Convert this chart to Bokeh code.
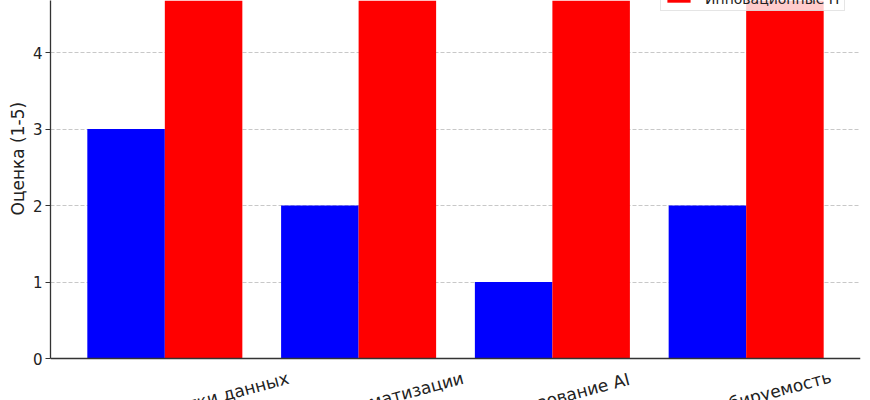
import math
from bokeh.plotting import figure
from bokeh.models import (ColumnDataSource, Range1d, FixedTicker, Span, Legend,
                          LegendItem, Title)
from bokeh.transform import dodge
from bokeh.core.properties import value
from bokeh.embed import file_html
from bokeh.resources import INLINE

# ---- data ----
categories = ["Скорость обработки данных", "Уровень автоматизации",
              "Использование AI", "Масштабируемость"]
traditional_it = [3, 2, 1, 2]
innovative_it = [5, 5, 5, 5]
series_names = ["Традиционные IT", "Инновационные IT"]
y_ticks = [0, 1, 2, 3, 4, 5]
y_label = "Оценка (1-5)"

FONT = "DejaVu Sans"
idx = list(range(len(categories)))

# offsets for centred, rotated category labels (matplotlib-like placement)
ang = math.radians(15)
label_px = 16.8
label_offsets = [10.5 + (len(c) * 0.595 * label_px * math.sin(ang)
                         + 19.5 * math.cos(ang)) / 2 for c in categories]

src = ColumnDataSource(dict(x=idx, cat=categories, trad=traditional_it,
                            inno=innovative_it, zero=[0] * len(idx),
                            yoff=label_offsets))

p = figure(width=870, height=400, output_backend="svg", toolbar_location=None,
           x_range=Range1d(-0.59, 3.59), y_range=Range1d(-0.549, 4.68),
           x_axis_location=None, min_border_left=50, min_border_right=10,
           min_border_top=0, min_border_bottom=0)
p.outline_line_color = None
p.background_fill_color = "white"
p.border_fill_color = "white"

r_blue = p.vbar(x=dodge("x", -0.2, range=p.x_range), top="trad", width=0.4,
                source=src, fill_color="#0000ff", line_color=None)
r_red = p.vbar(x=dodge("x", 0.2, range=p.x_range), top="inno", width=0.4,
               source=src, fill_color="#ff0000", line_color=None)

# category labels, rotated 15 degrees and centred on the group
p.text(x="x", y="zero", text="cat", y_offset="yoff", source=src,
       angle=ang, text_align="center", text_baseline="middle",
       text_font=value(FONT), text_font_size=value("17px"),
       text_color="#222222")

# y axis
ax = p.yaxis[0]
ax.ticker = FixedTicker(ticks=y_ticks)
ax.bounds = (0, 5.25)
ax.major_label_text_font = FONT
ax.major_label_text_font_size = "15px"
ax.major_label_text_color = "#222222"
ax.major_tick_in = 0
ax.major_tick_out = 5
ax.minor_tick_line_color = None
ax.major_label_standoff = 3
ax.axis_line_color = "#333333"
ax.axis_line_width = 1.3
ax.major_tick_line_color = "#333333"
ax.major_tick_line_width = 1.1

# y axis title, placed along the original (taller) axes
p.add_layout(Title(text=y_label, align="left", offset=185, standoff=4,
                   text_font=FONT, text_font_size="17px",
                   text_font_style="normal", text_color="#222222"), "left")

# grid
p.xgrid.visible = False
p.ygrid.ticker = FixedTicker(ticks=y_ticks)
p.ygrid.grid_line_color = "#b0b0b0"
p.ygrid.grid_line_alpha = 0.7
p.ygrid.grid_line_dash = "4 2"
p.ygrid.grid_line_width = 1

# bottom spine
p.add_layout(Span(location=0, dimension="width", line_color="#333333",
                  line_width=1.3))

legend = Legend(items=[LegendItem(label=series_names[0], renderers=[r_blue]),
                       LegendItem(label=series_names[1], renderers=[r_red])],
                location=(610, 389), orientation="vertical",
                background_fill_color="white", background_fill_alpha=0.8,
                border_line_color="#cccccc", border_line_width=1,
                label_text_font=FONT, label_text_font_size="14px",
                label_text_color="#222222", glyph_width=29, glyph_height=8,
                label_standoff=12, padding=3, margin=0, spacing=3,
                label_height=16)
p.add_layout(legend)

open("out.html", "w").write(file_html(p, INLINE))
